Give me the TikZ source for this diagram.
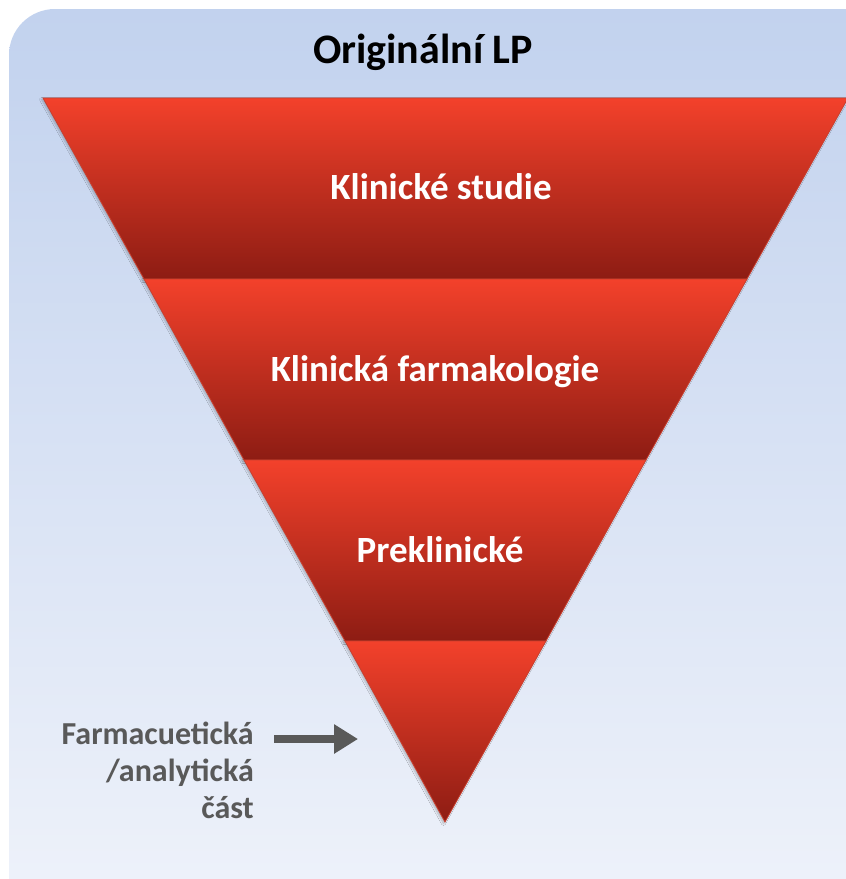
\documentclass[tikz,border=0pt]{standalone}
\usepackage{fontspec}
\setmainfont{Carlito}
\usetikzlibrary{arrows.meta,shadows.blur}
\definecolor{panelTop}{HTML}{C2D2EE}
\definecolor{panelBot}{HTML}{F1F4FB}
\definecolor{redTop}{HTML}{F3412B}
\definecolor{redBot}{HTML}{8D1C13}
\definecolor{redEdge}{HTML}{C8402F}
\definecolor{labelGray}{HTML}{595959}
\tikzset{
  band/.style={top color=redTop, bottom color=redBot, draw=redEdge, line width=0.8pt,
    blur shadow={shadow xshift=-1.5pt, shadow yshift=-1.5pt, shadow blur steps=6, shadow opacity=25}},
  bandtext/.style={text=white, font=\fontsize{37}{41}\selectfont\bfseries, inner sep=0pt},
  sidelabel/.style={text=labelGray, font=\fontsize{32}{37}\selectfont\bfseries, align=right, inner sep=0pt},
  pointer/.style={draw=labelGray, line width=8pt, -{Triangle[length=24pt,width=28pt]}}
}
\begin{document}
\begin{tikzpicture}[x=1pt,y=-1pt]
\useasboundingbox (0,0) rectangle (846,879);
\clip (0,0) rectangle (846,879);
% panel
\shade[top color=panelTop, bottom color=panelBot, middle color=panelTop!50!panelBot]
  [rounded corners=46pt] (9,960) -- (9,9) -- (900,9) -- (900,960) -- cycle;
% title
\node[font=\fontsize{42}{46}\selectfont\bfseries, text=black, inner sep=0pt] (title) at (423,52) {Originální LP};
% bands
\path[band] (43,98) -- (848,98) -- (747,279) -- (144,279) -- cycle;
\path[band] (144,279) -- (747,279) -- (646,460) -- (244,460) -- cycle;
\path[band] (244,460) -- (646,460) -- (546,641) -- (345,641) -- cycle;
\path[band] (345,641) -- (546,641) -- (445,822) -- cycle;
% band texts
\node[bandtext] (b1) at (441,187) {Klinické studie};
\node[bandtext] (b2) at (435,372) {Klinická farmakologie};
\node[bandtext] (b3) at (440,550) {Preklinické};
% side label and arrow
\node[sidelabel, anchor=north east] (farm) at (254,722) {Farmacuetická\\/analytická\\část};
\coordinate (arrS) at (274,739);
\coordinate (arrE) at (358,739);
\draw[pointer] (arrS) -- (arrE);
\end{tikzpicture}
\end{document}
